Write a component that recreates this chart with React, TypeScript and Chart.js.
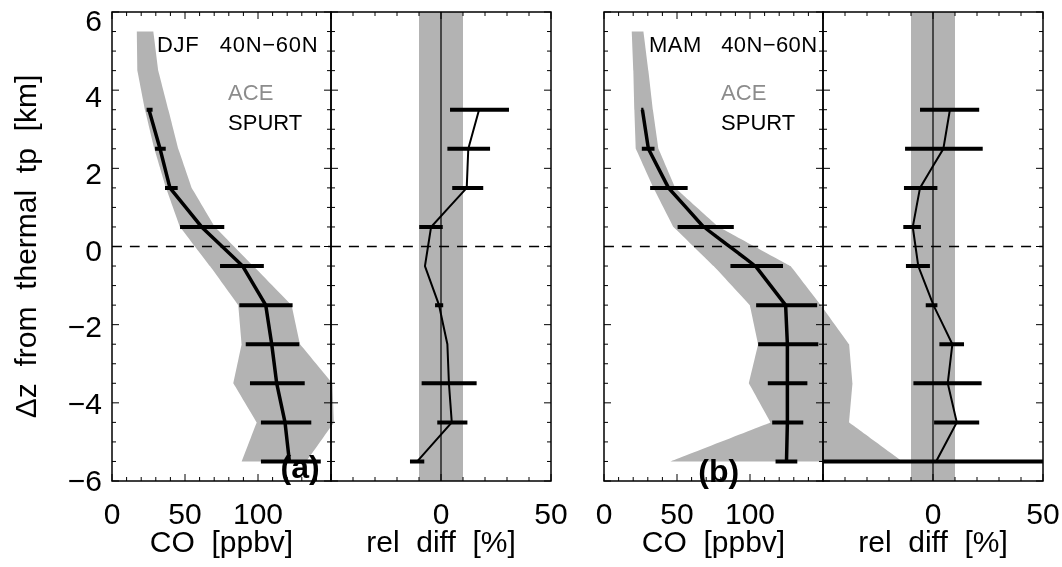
import React, { useEffect, useRef } from 'react';
import { Chart, registerables } from 'chart.js';

Chart.register(...registerables);

const FONT_FAMILY = "'Liberation Sans', Arial, Helvetica, sans-serif";
const GRAY = '#b3b3b3';
const ACE_GRAY = '#8c8c8c';

// ---------- axes ----------
const Y_RANGE = [-6, 6];
const Y_TICKS = [-6, -4, -2, 0, 2, 4, 6];
const Y_LABEL_RANGE = [-5.96, 6.27];
const CO_RANGE = [0, 150];
const REL_RANGE = [-50, 50];
const CO_TICK_LABELS = [0, 50, 100];
const REL_TICK_LABELS = [0, 50];
const REL_BAND = [-10, 10];

// ---------- levels ----------
const SPURT_LEVELS = [3.5, 2.5, 1.5, 0.5, -0.5, -1.5, -2.5, -3.5, -4.5, -5.5];
const ACE_LEVELS = [5.5, 4.5, 3.5, 2.5, 1.5, 0.5, -0.5, -1.5, -2.5, -3.5, -4.5, -5.5];

// ---------- DJF ----------
const DJF_ACE_LOW = [17, 17.4, 22.6, 29, 37, 46.6, 67.1, 86.5, 88.8, 83.1, 99.1, 88.8];
const DJF_ACE_HIGH = [28.3, 31.7, 38.6, 45.4, 54.6, 70.5, 96.8, 123, 128.8, 151, 152, 133];
const DJF_CO = [25.3, 32.9, 39.7, 61.4, 89.5, 105.3, 109.4, 112.8, 118.5, 121.5];
const DJF_CO_LOW = [23.7, 29.5, 36.3, 46.6, 74, 87.2, 91.6, 94.5, 102, 102];
const DJF_CO_HIGH = [27.8, 36.8, 45, 76.9, 104, 123.7, 128.3, 132, 136.5, 143];
const DJF_REL = [17.3, 12.4, 11.7, -4.5, -7.3, -0.9, 2.9, 3.6, 4.9, -10.8];
const DJF_REL_LOW = [4.1, 2.9, 5.1, -9.9, null, -2.7, null, -8.8, -1.7, -14.1];
const DJF_REL_HIGH = [30.9, 22.3, 19.2, 0.8, null, 1, null, 16.2, 12, -7.6];

// ---------- MAM ----------
const MAM_ACE_LOW = [19, 20.1, 20.8, 21.8, 33.9, 47.6, 75.1, 99.9, 105.6, 99.2, 114.1, 45.4];
const MAM_ACE_HIGH = [27, 30.4, 33.5, 37.3, 48.8, 78.6, 127.8, 148.5, 167.9, 170.2, 167.9, 204.6];
const MAM_CO = [26.3, 30.4, 44.2, 68.2, 103.8, 124.4, 125.6, 125.6, 125.6, 125];
const MAM_CO_LOW = [25.5, 25.9, 31.6, 50.4, 86.6, 104.2, 105.6, 112.2, 115.2, 117.5];
const MAM_CO_HIGH = [27, 34.6, 57.3, 88.9, 122.6, 146, 146.8, 139.3, 136.5, 132.4];
const MAM_REL = [7.7, 4.7, -5.9, -9.2, -6.7, 0.2, 8.8, 6.7, 10.8, 1.4];
const MAM_REL_LOW = [-5.9, -12.7, -13.2, -13.5, -12.3, -3.3, 2.9, -8.9, 0.5, -50];
const MAM_REL_HIGH = [21, 22.6, 2, -5.5, -1.4, 2, 14.1, 22.1, 21, 50];

// ---------- text ----------
const ANNOTATIONS = [
  { axis: 'x1', x: 30.8, y: 4.97, text: 'DJF   40N\u221260N', color: '#000', size: 22, bold: false, center: false, spacing: 0.7 },
  { axis: 'x1', x: 79.5, y: 3.74, text: 'ACE', color: ACE_GRAY, size: 22, bold: false, center: false, spacing: 0 },
  { axis: 'x1', x: 79.5, y: 2.97, text: 'SPURT', color: '#000', size: 22, bold: false, center: false, spacing: 0 },
  { axis: 'x1', x: 128.8, y: -5.7, text: '(a)', color: '#000', size: 32, bold: true, center: true, spacing: 0 },
  { axis: 'x3', x: 30.9, y: 4.97, text: 'MAM   40N\u221260N', color: '#000', size: 22, bold: false, center: false, spacing: 0.4 },
  { axis: 'x3', x: 80.2, y: 3.74, text: 'ACE', color: ACE_GRAY, size: 22, bold: false, center: false, spacing: 0 },
  { axis: 'x3', x: 80.2, y: 2.97, text: 'SPURT', color: '#000', size: 22, bold: false, center: false, spacing: 0 },
  { axis: 'x3', x: 78.6, y: -5.8, text: '(b)', color: '#000', size: 32, bold: true, center: true, spacing: 0 },
];

const PANEL_AXES = ['x1', 'x2', 'x3', 'x4'];
const X_MINOR_STEP = 10;
const X_MAJOR_STEP = 50;
const Y_MINOR_STEP = 0.5;
const Y_MAJOR_STEP = 2;

const fmt = (v: number) => (v < 0 ? '\u2212' + Math.abs(v) : String(v));

function polygon(levels: number[], low: number[], high: number[]) {
  const pts: any[] = levels.map((y, i) => ({ x: low[i], y }));
  for (let i = levels.length - 1; i >= 0; i--) pts.push({ x: high[i], y: levels[i] });
  return pts;
}
function bars(levels: number[], low: (number | null)[], high: (number | null)[]) {
  const pts: any[] = [];
  levels.forEach((y, i) => {
    if (low[i] == null || high[i] == null) return;
    pts.push({ x: low[i], y }, { x: high[i], y }, { x: null, y });
  });
  return pts;
}
function profile(levels: number[], vals: number[]) {
  return levels.map((y, i) => ({ x: vals[i], y }));
}

const PANELS = [
  {
    co: 'x1', rel: 'x2',
    aceLow: DJF_ACE_LOW, aceHigh: DJF_ACE_HIGH,
    coVal: DJF_CO, coLow: DJF_CO_LOW, coHigh: DJF_CO_HIGH,
    relVal: DJF_REL, relLow: DJF_REL_LOW, relHigh: DJF_REL_HIGH,
  },
  {
    co: 'x3', rel: 'x4',
    aceLow: MAM_ACE_LOW, aceHigh: MAM_ACE_HIGH,
    coVal: MAM_CO, coLow: MAM_CO_LOW, coHigh: MAM_CO_HIGH,
    relVal: MAM_REL, relLow: MAM_REL_LOW, relHigh: MAM_REL_HIGH,
  },
];

function buildDatasets() {
  const base = { indexAxis: 'y', yAxisID: 'y', pointRadius: 0, borderColor: '#000', fill: false };
  const layers: any[] = [];
  PANELS.forEach((p) => {
    layers.push({ ...base, xAxisID: p.co, data: polygon(ACE_LEVELS, p.aceLow, p.aceHigh), borderWidth: 0, backgroundColor: GRAY, fill: 'shape' });
    layers.push({
      ...base, xAxisID: p.rel,
      data: polygon([Y_RANGE[0], Y_RANGE[1]], [REL_BAND[0], REL_BAND[0]], [REL_BAND[1], REL_BAND[1]]),
      borderWidth: 0, backgroundColor: GRAY, fill: 'shape',
    });
  });
  PANELS.forEach((p) => {
    layers.push({ ...base, xAxisID: p.rel, data: [{ x: 0, y: Y_RANGE[0] }, { x: 0, y: Y_RANGE[1] }], borderWidth: 1.2 });
    layers.push({ ...base, xAxisID: p.co, data: [{ x: CO_RANGE[0], y: 0 }, { x: CO_RANGE[1], y: 0 }], borderWidth: 1.5, borderDash: [10, 8] });
    layers.push({ ...base, xAxisID: p.rel, data: [{ x: REL_RANGE[0], y: 0 }, { x: REL_RANGE[1], y: 0 }], borderWidth: 1.5, borderDash: [10, 8] });
  });
  PANELS.forEach((p) => {
    layers.push({ ...base, xAxisID: p.co, data: profile(SPURT_LEVELS, p.coVal), borderWidth: 3.5 });
    layers.push({ ...base, xAxisID: p.co, data: bars(SPURT_LEVELS, p.coLow, p.coHigh), borderWidth: 4, borderCapStyle: 'butt' });
    layers.push({ ...base, xAxisID: p.rel, data: profile(SPURT_LEVELS, p.relVal), borderWidth: 2 });
    layers.push({ ...base, xAxisID: p.rel, data: bars(SPURT_LEVELS, p.relLow, p.relHigh), borderWidth: 4, borderCapStyle: 'butt' });
  });
  return layers.map((d, i) => ({ ...d, order: layers.length - i }));
}

const tickFont = { family: FONT_FAMILY, size: 30 };

function xAxis(range: number[], weight: number, labels: number[] | null, title: string) {
  return {
    type: 'linear', axis: 'x', position: 'bottom', stack: 'panels', stackWeight: weight,
    min: range[0], max: range[1],
    grid: { display: false, drawTicks: false },
    border: { display: false },
    afterBuildTicks: (s: any) => { if (labels) s.ticks = labels.map((v) => ({ value: v })); },
    ticks: { display: !!labels, font: tickFont, color: '#000', padding: 17, maxRotation: 0, minRotation: 0, autoSkip: false, callback: (v: any) => fmt(Number(v)) },
    title: { display: !!title, text: title, font: tickFont, color: '#000', padding: { top: 0, bottom: 5 } },
    afterFit: (s: any) => { s.height = 86; s.paddingLeft = 0; s.paddingRight = 0; },
  };
}

const framePlugin = {
  id: 'idlFrame',
  afterDatasetsDraw(chart: any) {
    const { ctx, chartArea } = chart;
    const ys = chart.scales.y;
    const t = chartArea.top, b = chartArea.bottom;
    ctx.save();
    ctx.strokeStyle = '#000';
    for (const id of PANEL_AXES) {
      const xs = chart.scales[id];
      const l = xs.left, r = xs.right;
      ctx.lineWidth = 1;
      ctx.beginPath();
      for (let v = xs.min; v <= xs.max + 1e-9; v += X_MINOR_STEP) {
        const px = xs.getPixelForValue(v);
        const len = Math.abs(v % X_MAJOR_STEP) < 1e-9 ? 7 : 4;
        ctx.moveTo(px, b); ctx.lineTo(px, b - len);
        ctx.moveTo(px, t); ctx.lineTo(px, t + len);
      }
      for (let v = ys.min; v <= ys.max + 1e-9; v += Y_MINOR_STEP) {
        const py = ys.getPixelForValue(v);
        const len = Math.abs(v % Y_MAJOR_STEP) < 1e-9 ? 7 : 4;
        ctx.moveTo(l, py); ctx.lineTo(l + len, py);
        ctx.moveTo(r, py); ctx.lineTo(r - len, py);
      }
      ctx.stroke();
      ctx.lineWidth = 1.5;
      ctx.strokeRect(l, t, r - l, b - t);
    }
    ctx.restore();
  },
  afterDraw(chart: any) {
    const { ctx } = chart;
    const ys = chart.scales.y;
    ctx.save();
    for (const a of ANNOTATIONS) {
      const xs = chart.scales[a.axis];
      ctx.font = `${a.bold ? 'bold ' : ''}${a.size}px ${FONT_FAMILY}`;
      if ('letterSpacing' in ctx) (ctx as any).letterSpacing = `${a.spacing}px`;
      ctx.fillStyle = a.color;
      ctx.textAlign = a.center ? 'center' : 'left';
      ctx.textBaseline = a.center ? 'middle' : 'alphabetic';
      ctx.fillText(a.text, xs.getPixelForValue(a.x), ys.getPixelForValue(a.y));
    }
    ctx.restore();
  },
};

export default function App() {
  const canvasRef = useRef<HTMLCanvasElement | null>(null);
  useEffect(() => {
    document.body.style.margin = '0';
    const canvas = canvasRef.current;
    if (!canvas) return;
    const chart = new Chart(canvas, {
      type: 'line',
      data: { datasets: buildDatasets() },
      options: {
        responsive: false,
        animation: false,
        indexAxis: 'y',
        events: [],
        layout: { padding: { left: 0, top: 12, right: 19, bottom: 0 } },
        elements: { point: { radius: 0 }, line: { tension: 0.000001, capBezierPoints: false } },
        plugins: { legend: { display: false }, tooltip: { enabled: false } },
        scales: {
          y: { type: 'linear', axis: 'y', position: 'left', min: Y_RANGE[0], max: Y_RANGE[1], display: false },
          yl: {
            type: 'linear', axis: 'y', position: 'left', min: Y_LABEL_RANGE[0], max: Y_LABEL_RANGE[1],
            grid: { display: false, drawTicks: false },
            border: { display: false },
            afterBuildTicks: (s: any) => { s.ticks = Y_TICKS.map((v) => ({ value: v })); },
            ticks: { font: tickFont, color: '#000', padding: 10, autoSkip: false, callback: (v: any) => fmt(Number(v)) },
            title: { display: true, text: '\u0394z  from  thermal  tp  [km]', font: tickFont, color: '#000', padding: { top: 10, bottom: 0 } },
            afterFit: (s: any) => { s.width = 112; s.paddingTop = 0; s.paddingBottom = 0; },
          },
          x1: xAxis(CO_RANGE, 219, CO_TICK_LABELS, 'CO  [ppbv]'),
          x2: xAxis(REL_RANGE, 220, REL_TICK_LABELS, 'rel  diff  [%]'),
          xg: xAxis([0, 1], 53, null, ''),
          x3: xAxis(CO_RANGE, 219, CO_TICK_LABELS, 'CO  [ppbv]'),
          x4: xAxis(REL_RANGE, 220, REL_TICK_LABELS, 'rel  diff  [%]'),
        },
      } as any,
      plugins: [framePlugin],
    } as any);
    return () => chart.destroy();
  }, []);
  return (
    <div style={{ width: 1062, height: 567 }}>
      <canvas ref={canvasRef} width={1062} height={567} style={{ display: 'block' }} />
    </div>
  );
}
